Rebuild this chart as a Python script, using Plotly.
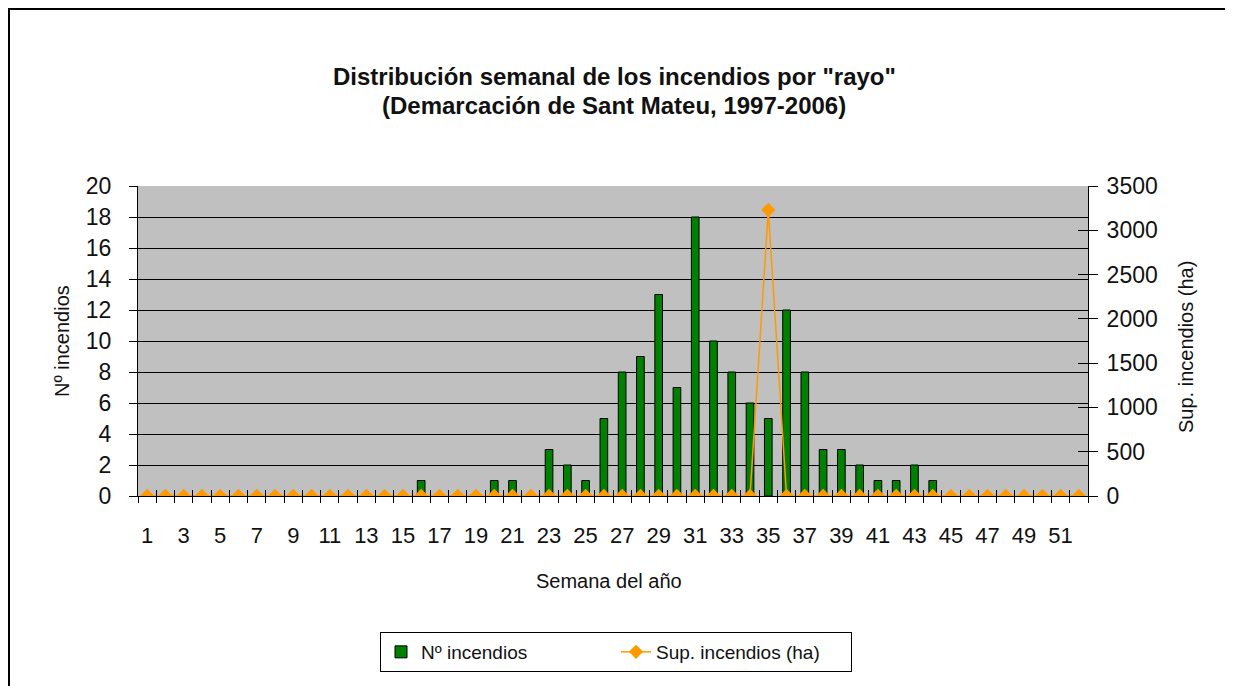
import plotly.graph_objects as go

# ---------------- data ----------------
weeks = list(range(1, 53))

n_incendios = [0, 0, 0, 0, 0, 0, 0, 0, 0, 0,
               0, 0, 0, 0, 0, 1, 0, 0, 0, 1,
               1, 0, 3, 2, 1, 5, 8, 9, 13, 7,
               18, 10, 8, 6, 5, 12, 8, 3, 3, 2,
               1, 1, 2, 1, 0, 0, 0, 0, 0, 0,
               0, 0]

sup_incendios = [0, 0, 0, 0, 0, 0, 0, 0, 0, 0,
                 0, 0, 0, 0, 0, 0, 0, 0, 0, 0,
                 0, 0, 0, 0, 0, 0, 0, 0, 0, 0,
                 0, 0, 0, 0, 3230, 0, 0, 0, 0, 0,
                 0, 0, 0, 0, 0, 0, 0, 0, 0, 0,
                 0, 0]

x_tick_labels = ["1", "", "3", "", "5", "", "7", "", "9", "", "11", "", "13", "",
                 "15", "", "17", "", "19", "", "21", "", "23", "", "25", "", "27", "",
                 "29", "", "31", "", "33", "", "35", "", "37", "", "39", "", "41", "",
                 "43", "", "45", "", "47", "", "49", "", "51", ""]

title_line1 = 'Distribución semanal de los incendios por "rayo"'
title_line2 = "(Demarcación de Sant Mateu, 1997-2006)"
x_title = "Semana del año"
y_title = "Nº incendios"
y2_title = "Sup. incendios (ha)"
bar_name = "Nº incendios"
line_name = "Sup. incendios (ha)"

# ---------------- styling ----------------
FONT = "Liberation Sans, Arial, sans-serif"
TXT = "#111111"
GREEN = "#008000"
ORANGE = "#FF9900"

# page offset (html body margin) and target geometry in screen pixels
OFF = 8
SCREEN_W, SCREEN_H = 1233, 686
W, H = SCREEN_W - OFF, SCREEN_H - OFF
L, R, T, B = 138 - OFF, 1088 - OFF, 186 - OFF, 496 - OFF
pw, ph = R - L, B - T


def px_x(p):  # screen pixel -> paper x
    return (p - OFF - L) / pw


def px_y(p):  # screen pixel -> paper y
    return (B - (p - OFF)) / ph


half_ticks = [w - 0.5 for w in weeks] + [weeks[-1] + 0.5]

fig = go.Figure()

fig.add_trace(go.Bar(
    x=weeks, y=n_incendios, name=bar_name,
    width=0.42,
    marker=dict(color=GREEN, line=dict(color="black", width=1)),
    xaxis="x", yaxis="y",
))

fig.add_trace(go.Scatter(
    x=weeks, y=sup_incendios, name=line_name,
    mode="lines+markers",
    line=dict(color=ORANGE, width=1.5),
    marker=dict(symbol="diamond", size=11, color=ORANGE),
    xaxis="x", yaxis="y2",
))

# helper (empty) trace so the overlay axes used for crossing ticks are drawn
fig.add_trace(go.Scatter(x=[], y=[], xaxis="x2", yaxis="y3",
                         showlegend=False, hoverinfo="skip"))

fig.update_layout(
    width=W, height=H,
    margin=dict(l=L, r=W - R, t=T, b=H - B, pad=0),
    paper_bgcolor="white",
    plot_bgcolor="#C0C0C0",
    font=dict(family=FONT, color=TXT),
    showlegend=True,
    legend=dict(
        orientation="h",
        x=px_x(616), xanchor="center",
        y=px_y(632), yanchor="top",
        bordercolor="black", borderwidth=1,
        bgcolor="white",
        entrywidth=190, entrywidthmode="pixels",
        font=dict(family=FONT, size=19, color=TXT),
        traceorder="normal",
    ),
    xaxis=dict(
        range=[0.5, 52.5],
        tickmode="array", tickvals=weeks, ticktext=x_tick_labels,
        ticks="",
        showline=True, linecolor="black", linewidth=1,
        showgrid=False, zeroline=False,
        tickfont=dict(size=22, family=FONT, color=TXT),
        ticklabelstandoff=20,
        minor=dict(tickmode="array", tickvals=half_ticks, ticks="outside",
                   ticklen=6, tickwidth=1, tickcolor="black", showgrid=False),
        fixedrange=True,
    ),
    xaxis2=dict(
        overlaying="x", anchor="y", side="bottom",
        range=[0.5, 52.5],
        tickmode="array", tickvals=half_ticks,
        ticks="inside", ticklen=6, tickwidth=1, tickcolor="black",
        showticklabels=False, showgrid=False, zeroline=False, showline=False,
    ),
    yaxis=dict(
        range=[0, 20], tick0=0, dtick=2,
        ticks="outside", ticklen=8, tickwidth=1, tickcolor="black",
        showline=True, linecolor="black", linewidth=1,
        showgrid=True, gridcolor="black", gridwidth=1,
        zeroline=False,
        tickfont=dict(size=23, family=FONT, color=TXT),
        ticklabelstandoff=13,
    ),
    yaxis2=dict(
        overlaying="y", side="right", anchor="x",
        range=[0, 3500], tick0=0, dtick=500,
        ticks="outside", ticklen=9, tickwidth=1, tickcolor="black",
        showline=True, linecolor="black", linewidth=1,
        showgrid=False, zeroline=False,
        tickfont=dict(size=23, family=FONT, color=TXT),
        ticklabelstandoff=4,
    ),
    yaxis3=dict(
        overlaying="y", side="right", anchor="x2",
        range=[0, 3500], tick0=0, dtick=500,
        ticks="inside", ticklen=10, tickwidth=1, tickcolor="black",
        showticklabels=False, showgrid=False, zeroline=False, showline=False,
    ),
    annotations=[
        dict(text="<b>" + title_line1 + "</b>", x=px_x(614), y=px_y(76),
             xref="paper", yref="paper", showarrow=False,
             xanchor="center", yanchor="middle",
             font=dict(family=FONT, size=24, color=TXT)),
        dict(text="<b>" + title_line2 + "</b>", x=px_x(614), y=px_y(105),
             xref="paper", yref="paper", showarrow=False,
             xanchor="center", yanchor="middle",
             font=dict(family=FONT, size=24, color=TXT)),
        dict(text=x_title, x=px_x(609), y=px_y(581),
             xref="paper", yref="paper", showarrow=False,
             xanchor="center", yanchor="middle",
             font=dict(family=FONT, size=20, color=TXT)),
        dict(text=y_title, x=px_x(62), y=px_y(341), textangle=-90,
             xref="paper", yref="paper", showarrow=False,
             xanchor="center", yanchor="middle",
             font=dict(family=FONT, size=20, color=TXT)),
        dict(text=y2_title, x=px_x(1186), y=px_y(347), textangle=-90,
             xref="paper", yref="paper", showarrow=False,
             xanchor="center", yanchor="middle",
             font=dict(family=FONT, size=20, color=TXT)),
    ],
    shapes=[
        # outer chart frame: only the top and left edges are inside the picture
        dict(type="line", xref="paper", yref="paper",
             x0=px_x(8), x1=px_x(1300), y0=px_y(9), y1=px_y(9),
             line=dict(color="black", width=2), layer="above"),
        dict(type="line", xref="paper", yref="paper",
             x0=px_x(9), x1=px_x(9), y0=px_y(8), y1=px_y(760),
             line=dict(color="black", width=2), layer="above"),
    ],
)

fig.write_html("out.html")
